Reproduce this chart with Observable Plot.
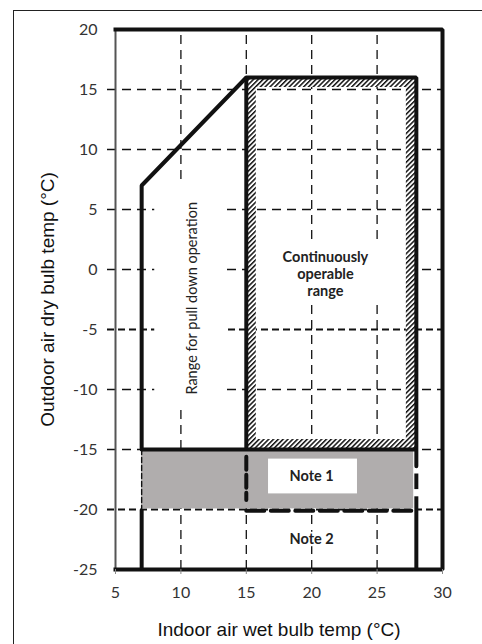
<!DOCTYPE html>
<html>
<head>
<meta charset="utf-8">
<script src="https://cdn.jsdelivr.net/npm/d3@7"></script>
<script src="https://cdn.jsdelivr.net/npm/@observablehq/plot@0.6"></script>
<style>
  html, body { margin: 0; padding: 0; background: #fff; }
  #wrap { position: relative; width: 482px; height: 644px; overflow: hidden; }
  #border { position: absolute; left: 13px; top: 10px; width: 600px; height: 700px;
            border-top: 1.4px solid #222; border-left: 1.4px solid #222; pointer-events: none; }
</style>
</head>
<body>
<div id="wrap"><div id="chart"></div><div id="border"></div></div>
<script>
// ---- tick labels / axis ----
const xTicks = [5, 10, 15, 20, 25, 30];
const yTicks = [20, 15, 10, 5, 0, -5, -10, -15, -20, -25];
const xDomain = [5, 30];
const yDomain = [-25, 20];
const xTitle = "Indoor air wet bulb temp (°C)";
const yTitle = "Outdoor air dry bulb temp (°C)";

// ---- grid ----
const gridX = [10, 15, 20, 25];
const gridY = [15, 10, 5, 0, -10, -15];
const gridYBold = [-5, -20];

// ---- operating range outline (wet bulb x, dry bulb y) ----
const envX = [7, 7, 15, 28, 28];
const envY = [-15, 7, 16, 16, -16.4];
const frameX = [5, 30, 30, 5];
const frameY = [20, 20, -25, -25];
// other solid thick segments
const segX1 = [15, 7, 7, 28, 28];
const segY1 = [16, -15, -20, -17, -18.9];
const segX2 = [15, 28, 7, 28, 28];
const segY2 = [-15, -15, -25, -18.3, -25];
// thick dashed segments (x=15 and y=-20 inside Note 1 band)
const dashVX = [15, 15], dashVY = [-15.6, -19.2];
const dashHX = [15, 27.8], dashHY = [-20.1, -20.1];
// thin dashed left edge of shaded band
const edgeX = [7, 7], edgeY = [-15, -20];

// ---- areas ----
const grayX = [7, 27.8], grayY = [-19.95, -15];
const hatchX = [15, 28], hatchY = [-15, 16];
const note1BoxX = [16.7, 23.5], note1BoxY = [-18.7, -15.8];
// white backgrounds behind labels
const boxX1 = [8, 15.3, 18.3];
const boxX2 = [13.4, 27, 21.7];
const boxY1 = [-11.3, -3, -23.1];
const boxY2 = [7, 2.4, -21.9];

// ---- labels ----
const bandLabels = ["Note 1", "Note 2"];
const bandLabelX = [20, 20];
const bandLabelY = [-17.25, -22.5];
const rangeLabel = "Continuously\noperable\nrange";
const rangeLabelX = 21.05, rangeLabelY = -0.35;
const pullLabel = "Range for pull down operation";
const pullLabelX = 10.9, pullLabelY = -2.4;

const pts = (xs, ys) => xs.map((x, i) => ({x, y: ys[i]}));
const segs = segX1.map((x1, i) => ({x1, y1: segY1[i], x2: segX2[i], y2: segY2[i]}));
const rect1 = (xs, ys) => [{x1: xs[0], x2: xs[1], y1: ys[0], y2: ys[1]}];
const boxes = boxX1.map((x1, i) => ({x1, x2: boxX2[i], y1: boxY1[i], y2: boxY2[i]}));
const ink = "#111";
const chartFont = "Lato, 'Open Sans', sans-serif";
const titleFont = "'Liberation Sans', Arial, sans-serif";

const chart = Plot.plot({
  width: 482,
  height: 644,
  marginLeft: 115,
  marginRight: 40,
  marginTop: 29,
  marginBottom: 75,
  style: {background: "transparent", overflow: "visible"},
  x: {domain: xDomain},
  y: {domain: yDomain},
  marks: [
    // grid
    Plot.ruleX(gridX, {y1: -25, y2: 20, stroke: ink, strokeWidth: 1.3, strokeDasharray: "9,6"}),
    Plot.ruleY(gridY, {x1: 5, x2: 30, insetLeft: -8, stroke: ink, strokeWidth: 1.3, strokeDasharray: "9,6"}),
    Plot.ruleY(gridYBold, {x1: 5, x2: 30, insetLeft: -8, stroke: ink, strokeWidth: 2.2, strokeDasharray: "7,4"}),
    // label backgrounds
    Plot.rect(boxes, {x1: "x1", x2: "x2", y1: "y1", y2: "y2", fill: "white"}),
    // shaded band (Note 1)
    Plot.rect(rect1(grayX, grayY), {x1: "x1", x2: "x2", y1: "y1", y2: "y2", fill: "#b0adad"}),
    Plot.rect(rect1(note1BoxX, note1BoxY), {x1: "x1", x2: "x2", y1: "y1", y2: "y2", fill: "white"}),
    // hatched border of continuously operable range
    Plot.rect(rect1(hatchX, hatchY), {x1: "x1", x2: "x2", y1: "y1", y2: "y2", fill: "none",
      stroke: "url(#hatch)", strokeWidth: 10, inset: 5}),
    // left axis line
    Plot.ruleX([5], {y1: -25, y2: 20, stroke: "#555", strokeWidth: 2}),
    // frame
    Plot.line(pts(frameX, frameY), {x: "x", y: "y", stroke: ink, strokeWidth: 4, strokeLinejoin: "miter", strokeLinecap: "square"}),
    // outline
    Plot.line(pts(envX, envY), {x: "x", y: "y", stroke: ink, strokeWidth: 4, strokeLinejoin: "miter"}),
    Plot.link(segs, {x1: "x1", y1: "y1", x2: "x2", y2: "y2", stroke: ink, strokeWidth: 4}),
    Plot.line(pts(dashVX, dashVY), {x: "x", y: "y", stroke: ink, strokeWidth: 4, strokeDasharray: "13,5"}),
    Plot.line(pts(dashHX, dashHY), {x: "x", y: "y", stroke: ink, strokeWidth: 4, strokeDasharray: "18,6.5"}),
    Plot.line(pts(edgeX, edgeY), {x: "x", y: "y", stroke: ink, strokeWidth: 1.4, strokeDasharray: "5,3"}),
    // axes
    Plot.axisY(yTicks, {tickSize: 0, tickPadding: 18, tickFormat: d => String(d), fontSize: 16,
      fontFamily: chartFont, fill: "#333", label: null}),
    Plot.axisX(xTicks, {tickSize: 5, tickPadding: 12, tickFormat: d => String(d), stroke: "#888", fontSize: 16,
      fontFamily: chartFont, fill: "#333", label: null}),
    // axis titles
    Plot.text([xTitle], {frameAnchor: "bottom", dy: 60.5, textAnchor: "middle", lineAnchor: "middle",
      fontSize: 19, fontFamily: titleFont, fill: ink}),
    Plot.text([yTitle], {frameAnchor: "left", dx: -67.5, rotate: -90, textAnchor: "middle", lineAnchor: "middle",
      fontSize: 19, fontFamily: titleFont, fill: ink}),
    // in-chart labels
    Plot.text(bandLabels, {x: (d, i) => bandLabelX[i], y: (d, i) => bandLabelY[i], fontSize: 14.5,
      fontWeight: "bold", fontFamily: chartFont, fill: "#222"}),
    Plot.text([rangeLabel], {x: rangeLabelX, y: rangeLabelY, lineHeight: 1.15, fontSize: 14.5,
      fontWeight: "bold", fontFamily: chartFont, fill: "#222"}),
    Plot.text([pullLabel], {x: pullLabelX, y: pullLabelY, rotate: -90, fontSize: 14.5,
      fontFamily: chartFont, fill: "#222"})
  ]
});

d3.select(chart).insert("defs", ":first-child").html(
  '<pattern id="hatch" patternUnits="userSpaceOnUse" width="3.4" height="3.4" patternTransform="rotate(45)">' +
  '<rect width="3.4" height="3.4" fill="white"/><rect width="1.5" height="3.4" fill="#111"/></pattern>'
);
document.getElementById("chart").appendChild(chart);
</script>
</body>
</html>
